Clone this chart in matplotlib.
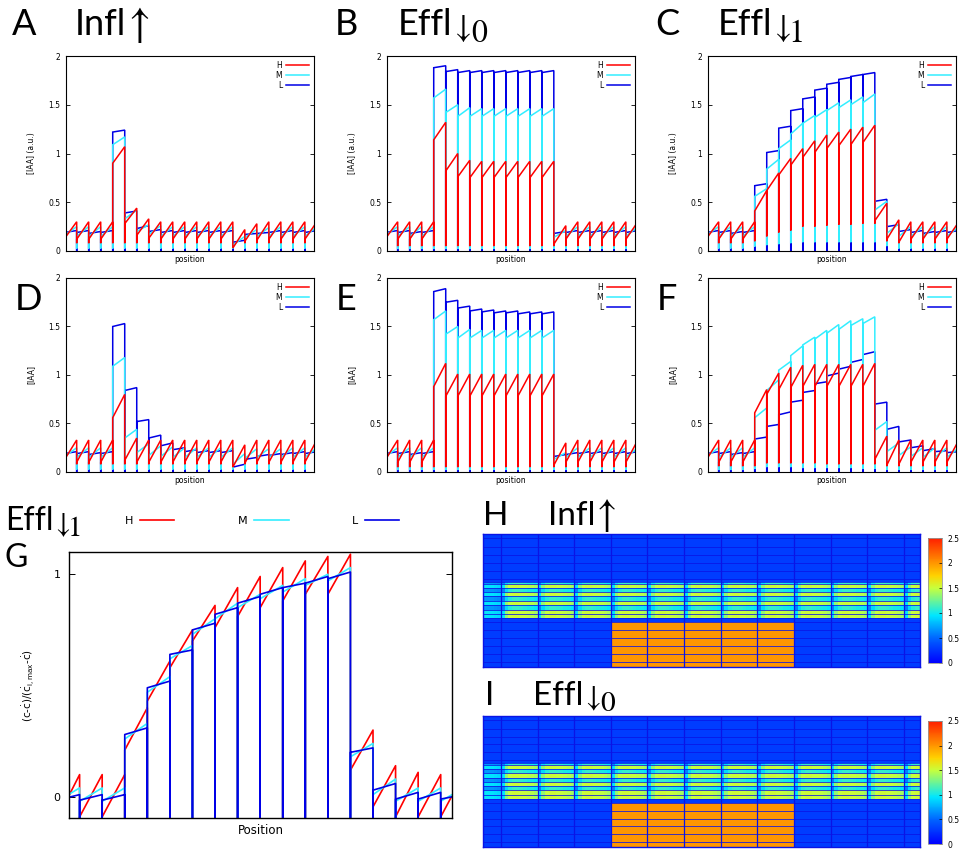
import numpy as np
import matplotlib
matplotlib.use('Agg')
import matplotlib.pyplot as plt
from matplotlib.colors import LinearSegmentedColormap, Normalize
from matplotlib.cm import ScalarMappable
from matplotlib.textpath import TextPath

plt.rcParams['mathtext.fontset'] = 'stix'
plt.rcParams['font.family'] = 'DejaVu Sans'

W, H = 966, 849

# ---- line profiles: one (start, end) pair per cell, wall value between cells ----
# panels A-F: cells 0..20, cell i spans [i, i+1]
A_H_start = [0.13, 0.12, 0.12, 0.12, 0.90, 0.28, 0.16, 0.13, 0.12, 0.12, 0.12, 0.12, 0.12, 0.12, 0.03, 0.10, 0.11, 0.12, 0.12, 0.12, 0.12]
A_H_end = [0.30, 0.30, 0.30, 0.30, 1.07, 0.44, 0.33, 0.30, 0.30, 0.30, 0.30, 0.30, 0.30, 0.30, 0.22, 0.28, 0.30, 0.30, 0.30, 0.30, 0.30]
A_M_start = [0.16, 0.15, 0.15, 0.15, 1.09, 0.33, 0.20, 0.17, 0.15, 0.15, 0.15, 0.15, 0.15, 0.15, 0.06, 0.14, 0.15, 0.15, 0.15, 0.15, 0.15]
A_M_end = [0.25, 0.25, 0.25, 0.25, 1.17, 0.42, 0.27, 0.26, 0.25, 0.25, 0.25, 0.25, 0.25, 0.25, 0.15, 0.22, 0.24, 0.25, 0.25, 0.25, 0.25]
A_L_start = [0.19, 0.19, 0.18, 0.19, 1.22, 0.39, 0.23, 0.20, 0.19, 0.19, 0.19, 0.19, 0.19, 0.19, 0.09, 0.17, 0.18, 0.19, 0.19, 0.19, 0.19]
A_L_end = [0.21, 0.21, 0.20, 0.21, 1.24, 0.41, 0.26, 0.22, 0.21, 0.21, 0.21, 0.21, 0.21, 0.21, 0.11, 0.18, 0.19, 0.21, 0.21, 0.21, 0.21]

B_H_start = [0.13, 0.12, 0.12, 0.12, 1.14, 0.82, 0.76, 0.75, 0.75, 0.75, 0.75, 0.75, 0.75, 0.75, 0.07, 0.12, 0.12, 0.12, 0.12, 0.12, 0.12]
B_H_end = [0.30, 0.30, 0.30, 0.30, 1.32, 1.00, 0.93, 0.92, 0.92, 0.92, 0.92, 0.92, 0.92, 0.92, 0.26, 0.30, 0.30, 0.30, 0.30, 0.30, 0.30]
B_M_start = [0.16, 0.15, 0.15, 0.15, 1.57, 1.42, 1.38, 1.38, 1.38, 1.38, 1.38, 1.38, 1.38, 1.38, 0.14, 0.15, 0.15, 0.15, 0.15, 0.15, 0.15]
B_M_end = [0.25, 0.25, 0.25, 0.25, 1.66, 1.50, 1.47, 1.46, 1.46, 1.46, 1.46, 1.46, 1.46, 1.46, 0.21, 0.25, 0.25, 0.25, 0.25, 0.25, 0.25]
B_L_start = [0.19, 0.19, 0.18, 0.19, 1.88, 1.84, 1.83, 1.83, 1.83, 1.83, 1.83, 1.83, 1.83, 1.83, 0.18, 0.19, 0.19, 0.19, 0.19, 0.19, 0.19]
B_L_end = [0.21, 0.21, 0.20, 0.21, 1.90, 1.86, 1.85, 1.85, 1.85, 1.85, 1.85, 1.85, 1.85, 1.85, 0.20, 0.21, 0.21, 0.21, 0.21, 0.21, 0.21]

C_H_start = [0.13, 0.12, 0.12, 0.12, 0.41, 0.62, 0.78, 0.88, 0.96, 1.01, 1.05, 1.08, 1.09, 1.11, 0.31, 0.12, 0.09, 0.12, 0.12, 0.12, 0.12]
C_H_end = [0.30, 0.30, 0.30, 0.30, 0.62, 0.80, 0.95, 1.05, 1.13, 1.19, 1.22, 1.25, 1.27, 1.29, 0.49, 0.32, 0.30, 0.30, 0.30, 0.30, 0.30]
C_M_start = [0.16, 0.15, 0.15, 0.15, 0.56, 0.84, 1.05, 1.20, 1.31, 1.37, 1.44, 1.47, 1.50, 1.52, 0.42, 0.18, 0.15, 0.15, 0.15, 0.15, 0.15]
C_M_end = [0.25, 0.25, 0.25, 0.25, 0.64, 0.94, 1.14, 1.31, 1.39, 1.45, 1.52, 1.55, 1.58, 1.61, 0.51, 0.28, 0.25, 0.25, 0.25, 0.25, 0.25]
C_L_start = [0.19, 0.19, 0.18, 0.19, 0.67, 1.01, 1.26, 1.44, 1.56, 1.65, 1.71, 1.76, 1.79, 1.81, 0.51, 0.25, 0.20, 0.19, 0.18, 0.19, 0.19]
C_L_end = [0.21, 0.21, 0.20, 0.21, 0.69, 1.03, 1.28, 1.46, 1.58, 1.67, 1.73, 1.78, 1.81, 1.83, 0.53, 0.27, 0.22, 0.21, 0.20, 0.21, 0.21]
C_H_wall = [0.08, 0.08, 0.08, 0.10, 0.15, 0.19, 0.21, 0.25, 0.25, 0.26, 0.27, 0.27, 0.28, 0.28, 0.10, 0.08, 0.08, 0.08, 0.08, 0.08]
C_M_wall = [0.025, 0.025, 0.025, 0.045, 0.06, 0.07, 0.08, 0.09, 0.09, 0.09, 0.09, 0.09, 0.09, 0.09, 0.05, 0.025, 0.025, 0.025, 0.025, 0.025]

D_H_start = [0.13, 0.10, 0.10, 0.10, 0.56, 0.12, 0.10, 0.10, 0.10, 0.10, 0.10, 0.10, 0.10, 0.10, 0.05, 0.09, 0.10, 0.10, 0.10, 0.10, 0.10]
D_H_end = [0.33, 0.33, 0.33, 0.33, 0.80, 0.35, 0.33, 0.33, 0.33, 0.33, 0.33, 0.33, 0.33, 0.33, 0.28, 0.33, 0.33, 0.33, 0.33, 0.33, 0.33]
D_M_start = [0.16, 0.15, 0.15, 0.15, 1.09, 0.35, 0.20, 0.17, 0.16, 0.15, 0.15, 0.15, 0.15, 0.15, 0.08, 0.14, 0.15, 0.15, 0.15, 0.15, 0.15]
D_M_end = [0.25, 0.25, 0.25, 0.25, 1.18, 0.44, 0.29, 0.27, 0.26, 0.25, 0.25, 0.25, 0.25, 0.25, 0.19, 0.24, 0.24, 0.24, 0.25, 0.25, 0.25]
D_L_start = [0.19, 0.19, 0.18, 0.19, 1.50, 0.84, 0.52, 0.35, 0.27, 0.23, 0.21, 0.20, 0.20, 0.20, 0.05, 0.13, 0.16, 0.17, 0.18, 0.19, 0.19]
D_L_end = [0.21, 0.21, 0.20, 0.21, 1.53, 0.87, 0.54, 0.38, 0.30, 0.25, 0.23, 0.22, 0.22, 0.22, 0.08, 0.15, 0.18, 0.19, 0.20, 0.21, 0.21]

E_H_start = [0.13, 0.10, 0.10, 0.10, 0.88, 0.78, 0.78, 0.78, 0.78, 0.78, 0.78, 0.78, 0.78, 0.78, 0.07, 0.10, 0.10, 0.10, 0.10, 0.10, 0.10]
E_H_end = [0.33, 0.33, 0.33, 0.33, 1.12, 1.01, 1.01, 1.01, 1.01, 1.01, 1.01, 1.01, 1.01, 1.01, 0.30, 0.33, 0.33, 0.33, 0.33, 0.33, 0.33]
E_M_start = [0.16, 0.15, 0.15, 0.15, 1.57, 1.42, 1.38, 1.38, 1.38, 1.38, 1.38, 1.38, 1.38, 1.38, 0.13, 0.15, 0.15, 0.15, 0.15, 0.15, 0.15]
E_M_end = [0.25, 0.25, 0.25, 0.25, 1.66, 1.50, 1.47, 1.46, 1.46, 1.46, 1.46, 1.46, 1.46, 1.46, 0.20, 0.25, 0.25, 0.25, 0.25, 0.25, 0.25]
E_L_start = [0.19, 0.19, 0.18, 0.19, 1.86, 1.75, 1.69, 1.66, 1.65, 1.64, 1.64, 1.63, 1.63, 1.63, 0.16, 0.18, 0.19, 0.19, 0.19, 0.19, 0.19]
E_L_end = [0.21, 0.21, 0.20, 0.21, 1.89, 1.77, 1.71, 1.68, 1.67, 1.66, 1.66, 1.65, 1.65, 1.65, 0.18, 0.20, 0.21, 0.21, 0.21, 0.21, 0.21]

F_H_start = [0.13, 0.10, 0.10, 0.10, 0.61, 0.80, 0.85, 0.87, 0.88, 0.88, 0.88, 0.88, 0.88, 0.88, 0.13, 0.07, 0.08, 0.10, 0.10, 0.10, 0.10]
F_H_end = [0.33, 0.33, 0.33, 0.33, 0.85, 1.02, 1.08, 1.10, 1.11, 1.11, 1.11, 1.11, 1.11, 1.12, 0.37, 0.33, 0.33, 0.33, 0.33, 0.33, 0.33]
F_M_start = [0.16, 0.15, 0.15, 0.15, 0.56, 0.84, 1.05, 1.20, 1.31, 1.37, 1.43, 1.47, 1.51, 1.53, 0.43, 0.21, 0.17, 0.16, 0.15, 0.15, 0.15]
F_M_end = [0.25, 0.25, 0.25, 0.25, 0.66, 0.95, 1.14, 1.30, 1.39, 1.46, 1.52, 1.56, 1.58, 1.60, 0.52, 0.30, 0.26, 0.25, 0.25, 0.25, 0.25]
F_L_start = [0.19, 0.19, 0.18, 0.19, 0.34, 0.47, 0.59, 0.72, 0.82, 0.91, 0.99, 1.06, 1.13, 1.21, 0.70, 0.44, 0.31, 0.25, 0.22, 0.21, 0.20]
F_L_end = [0.21, 0.21, 0.20, 0.21, 0.36, 0.49, 0.62, 0.74, 0.84, 0.93, 1.02, 1.09, 1.16, 1.24, 0.72, 0.47, 0.33, 0.27, 0.24, 0.22, 0.21]
F_H_wall = [0.06, 0.06, 0.06, 0.06, 0.09, 0.09, 0.09, 0.09, 0.09, 0.08, 0.08, 0.08, 0.08, 0.08, 0.06, 0.06, 0.06, 0.06, 0.06, 0.06]
F_M_wall = [0.02, 0.02, 0.02, 0.03, 0.05, 0.05, 0.05, 0.04, 0.04, 0.04, 0.04, 0.04, 0.03, 0.03, 0.02, 0.02, 0.02, 0.02, 0.02, 0.02]

# panel G (normalised): cells 1..18
G_H_start = [-0.10, -0.09, -0.09, 0.21, 0.43, 0.58, 0.70, 0.76, 0.81, 0.85, 0.88, 0.91, 0.91, 0.12, -0.045, -0.09, -0.09, -0.09]
G_H_end = [0.10, 0.10, 0.10, 0.40, 0.61, 0.75, 0.86, 0.94, 0.99, 1.03, 1.06, 1.08, 1.09, 0.30, 0.14, 0.11, 0.10, 0.10]
G_M_start = [-0.02, -0.02, -0.02, 0.26, 0.47, 0.62, 0.73, 0.80, 0.85, 0.89, 0.92, 0.95, 0.97, 0.18, 0.01, -0.02, -0.02, -0.02]
G_M_end = [0.04, 0.04, 0.04, 0.33, 0.54, 0.68, 0.80, 0.87, 0.91, 0.95, 0.98, 1.00, 1.03, 0.24, 0.08, 0.04, 0.04, 0.04]
G_L_start = [-0.015, -0.015, -0.015, 0.28, 0.49, 0.64, 0.75, 0.82, 0.87, 0.91, 0.94, 0.96, 0.98, 0.20, 0.03, -0.01, -0.01, -0.01]
G_L_end = [0.01, 0.01, 0.01, 0.31, 0.52, 0.66, 0.78, 0.85, 0.90, 0.94, 0.96, 0.99, 1.01, 0.22, 0.06, 0.02, 0.02, 0.01]

# ---- heat maps (H and I): 13 cell columns, banded rows ----
heat_orange_cols = [4, 5, 6, 7, 8]
heat_row_edges = [0, 4.3, 12.7, 21.0, 28.7, 36.7, 44.3, 47.7, 49.3, 53.3, 57.7, 62.0, 66.7,
                  70.7, 75.0, 79.3, 83.3, 87.7, 95.3, 103.3, 111.0, 119.3, 127.0, 132]
heat_row_kind = ['top'] * 7 + ['dim', 'bright', 'dim', 'bright', 'dim', 'bright', 'dim', 'bright', 'bright'] \
    + ['low'] + ['bottom'] * 6
heat_background = 0.3
heat_orange = 2.0
heat_bright_profile = [0.95, 1.35, 1.50, 1.52, 1.52, 1.50, 1.50, 1.48, 1.45, 1.40]
heat_dim_profile = [0.60, 0.90, 1.05, 1.10, 1.10, 1.08, 1.05, 1.02, 1.00, 0.95]
heat_bright_first = [0.75, 0.90, 0.98, 1.00, 1.00, 0.98, 0.96, 0.94, 0.92, 0.90]
heat_dim_first = [0.45, 0.62, 0.70, 0.72, 0.72, 0.70, 0.68, 0.66, 0.64, 0.62]
heat_ticks = [0, 0.5, 1, 1.5, 2, 2.5]

RED, CYAN, BLUE = '#ff0000', '#33eeff', '#0000e6'
WALL = '#0a14e6'

fig = plt.figure(figsize=(W / 100, H / 100), dpi=100)
renderer = fig.canvas.get_renderer()


def px_rect(x0, y0, x1, y1):
    return [x0 / W, 1 - y1 / H, (x1 - x0) / W, (y1 - y0) / H]


def cell_line(starts, ends, walls, first):
    xs, ys = [], []
    n = len(starts)
    for k in range(n):
        x = first + k
        xs += [x, x + 1]
        ys += [starts[k], ends[k]]
        if k < n - 1:
            w = walls[k] if isinstance(walls, list) else walls
            xs.append(x + 1)
            ys.append(w)
    return xs, ys


def profile_panel(rect, series, ylabel, walls):
    ax = fig.add_axes(px_rect(*rect))
    handles = {}
    # L drawn first, H on top
    for name in ['L', 'M', 'H']:
        color, st, en = series[name]
        xs, ys = cell_line(st, en, walls[name], 0)
        ln, = ax.plot(xs, ys, color=color, lw=1.1, solid_joinstyle='miter')
        handles[name] = ln
    ax.set_xlim(0.11, 20.76)
    ax.set_ylim(0, 2)
    ax.set_xticks([])
    ax.set_yticks([0, 0.5, 1, 1.5, 2])
    ax.set_yticklabels(['0', '0.5', '1', '1.5', '2'])
    ax.tick_params(axis='y', direction='in', left=True, right=True, length=3,
                   width=0.6, labelsize=5.5, pad=4)
    for sp in ax.spines.values():
        sp.set_linewidth(0.8)
    ax.set_ylabel(ylabel, fontsize=5.5, labelpad=9)
    ax.set_xlabel('position', fontsize=5.5, labelpad=3)
    ax.legend([handles[k] for k in ['H', 'M', 'L']], ['H', 'M', 'L'], loc='upper right',
              frameon=False, fontsize=5.5, markerfirst=False, handlelength=3.0,
              labelspacing=0.12, borderaxespad=0.25, handletextpad=0.5)
    return ax


def ink_text(x, top, bottom, s):
    # place mathtext so that its ink spans [top, bottom] (pixels from the top)
    bb = TextPath((0, 0), s, size=100).get_extents()
    fs = (bottom - top) * 72.0 / bb.height
    scale = fs / 72.0
    y_base = H - bottom - bb.y0 * scale
    fig.text((x - bb.x0 * scale) / W, y_base / H, s, fontsize=fs, va='baseline', ha='left')
    return x + (bb.x1 - bb.x0) * scale


def title(x, baseline, word, arrow=None, sub=None, size=26):
    k = size / 26.0
    t = fig.text(x / W, 1 - baseline / H, word, fontsize=size, va='baseline', ha='left',
                 family='Lato')
    if arrow is None:
        return
    x1 = t.get_window_extent(renderer).x1 + 4 * k
    if arrow == 'up':
        x1 = ink_text(x1, baseline - 28 * k, baseline + 7 * k, r'$\uparrow$')
    else:
        x1 = ink_text(x1, baseline - 20 * k, baseline + 7 * k, r'$\downarrow$')
    if sub is not None:
        ink_text(x1 + 2 * k, baseline - 15 * k, baseline + 7 * k, '$%s$' % sub)


std_walls = {'H': 0.08, 'M': 0.025, 'L': 0.0}
tall_walls = {'H': 0.05, 'M': 0.02, 'L': 0.0}

profile_panel((66, 56, 314, 251),
              {'H': (RED, A_H_start, A_H_end), 'M': (CYAN, A_M_start, A_M_end), 'L': (BLUE, A_L_start, A_L_end)},
              '[IAA] (a.u.)', std_walls)
profile_panel((387, 56, 635, 251),
              {'H': (RED, B_H_start, B_H_end), 'M': (CYAN, B_M_start, B_M_end), 'L': (BLUE, B_L_start, B_L_end)},
              '[IAA] (a.u.)', tall_walls)
profile_panel((708, 56, 956, 251),
              {'H': (RED, C_H_start, C_H_end), 'M': (CYAN, C_M_start, C_M_end), 'L': (BLUE, C_L_start, C_L_end)},
              '[IAA] (a.u.)', {'H': C_H_wall, 'M': C_M_wall, 'L': 0.0})
profile_panel((66, 278, 314, 472),
              {'H': (RED, D_H_start, D_H_end), 'M': (CYAN, D_M_start, D_M_end), 'L': (BLUE, D_L_start, D_L_end)},
              '[IAA]', std_walls)
profile_panel((387, 278, 635, 472),
              {'H': (RED, E_H_start, E_H_end), 'M': (CYAN, E_M_start, E_M_end), 'L': (BLUE, E_L_start, E_L_end)},
              '[IAA]', tall_walls)
profile_panel((708, 278, 956, 472),
              {'H': (RED, F_H_start, F_H_end), 'M': (CYAN, F_M_start, F_M_end), 'L': (BLUE, F_L_start, F_L_end)},
              '[IAA]', {'H': F_H_wall, 'M': F_M_wall, 'L': 0.0})

# ---- panel G ----
axg = fig.add_axes(px_rect(69, 552, 452, 818))
g_handles = []
for color, st, en in [(RED, G_H_start, G_H_end), (CYAN, G_M_start, G_M_end), (BLUE, G_L_start, G_L_end)]:
    xs, ys = cell_line(st, en, -0.3, 1)
    ln, = axg.plot(xs, ys, color=color, lw=1.2)
    g_handles.append(ln)
axg.set_xlim(1.53, 18.5)
axg.set_ylim(-0.095, 1.1)
axg.set_xticks([])
axg.set_yticks([0, 1])
axg.tick_params(axis='y', direction='in', left=True, right=True, length=4, width=0.7,
                labelsize=8, pad=6)
for sp in axg.spines.values():
    sp.set_linewidth(1.0)
axg.set_xlabel('Position', fontsize=8.5, labelpad=4)
axg.set_ylabel(r'(c-$\dot{\mathrm{c}}$)/($\dot{\mathrm{c}}_{\mathrm{i,max}}$-$\dot{\mathrm{c}}$)',
               fontsize=7.5, labelpad=12, math_fontfamily='dejavusans')
fig.legend(g_handles, ['H', 'M', 'L'], ncol=3, loc='center left',
           bbox_to_anchor=(115 / W, 1 - 521 / H), frameon=False, fontsize=8,
           markerfirst=False, handlelength=3.1, columnspacing=5.7, handletextpad=0.6)

# ---- heat maps ----
heat_cmap = LinearSegmentedColormap.from_list(
    'bcyr', [(0.0, '#0000ff'), (0.2, '#0066ff'), (0.38, '#00e6ff'), (0.6, '#c8ff3c'),
             (0.7, '#ffd200'), (0.8, '#ff9600'), (1.0, '#ff1e00')])
heat_norm = Normalize(0, 2.5)
n_cols = 13
n_sub = len(heat_bright_profile)


def heat_matrix():
    z = np.zeros((len(heat_row_kind), n_cols * n_sub))
    for r, kind in enumerate(heat_row_kind):
        for c in range(n_cols):
            sl = slice(c * n_sub, (c + 1) * n_sub)
            if kind == 'top' or kind == 'low':
                z[r, sl] = heat_background
            elif kind == 'bottom':
                z[r, sl] = heat_orange if c in heat_orange_cols else heat_background
            elif kind == 'bright':
                z[r, sl] = heat_bright_first if c == 0 else heat_bright_profile
            else:
                z[r, sl] = heat_dim_first if c == 0 else heat_dim_profile
    return z


def heat_panel(rect, cbar_rect):
    ax = fig.add_axes(px_rect(*rect))
    x_edges = np.linspace(0, n_cols, n_cols * n_sub + 1)
    ax.pcolormesh(x_edges, heat_row_edges, heat_matrix(), cmap=heat_cmap, norm=heat_norm,
                  shading='flat')
    ax.vlines(range(1, n_cols), 0, heat_row_edges[-1], color=WALL, lw=0.9)
    ax.hlines(heat_row_edges[1:-1], 0, n_cols, color=WALL, lw=0.55)
    ax.set_xlim(0.51, 12.44)
    ax.set_ylim(heat_row_edges[-1], 0)
    ax.set_xticks([])
    ax.set_yticks([])
    for sp in ax.spines.values():
        sp.set_color(WALL)
        sp.set_linewidth(1.0)
    cax = fig.add_axes(px_rect(*cbar_rect))
    cb = fig.colorbar(ScalarMappable(norm=heat_norm, cmap=heat_cmap), cax=cax, ticks=heat_ticks)
    cb.ax.set_yticklabels(['0', '0.5', '1', '1.5', '2', '2.5'])
    cb.ax.tick_params(labelsize=5.5, length=2, width=0.5, direction='in', pad=4)
    cb.outline.set_edgecolor('#999999')
    cb.outline.set_linewidth(0.6)


heat_panel((483, 534, 920, 667), (928, 538, 942, 663))
heat_panel((483, 716, 920, 847), (928, 721, 942, 844))

# ---- panel titles ----
title(12, 35, 'A')
title(75, 35, 'Infl', 'up')
title(335, 35, 'B')
title(398, 35, 'Effl', 'down', '0')
title(655, 35, 'C')
title(718, 35, 'Effl', 'down', '1')
title(15, 310, 'D')
title(336, 310, 'E')
title(657, 310, 'F')
title(5, 530, 'Effl', 'down', '1', size=23)
title(5, 567, 'G', size=23)
title(483, 525, 'H', size=24)
title(548, 525, 'Infl', 'up', size=24)
title(485, 705, 'I', size=24)
title(533, 705, 'Effl', 'down', '0', size=24)

fig.savefig('out.png', dpi=100)
